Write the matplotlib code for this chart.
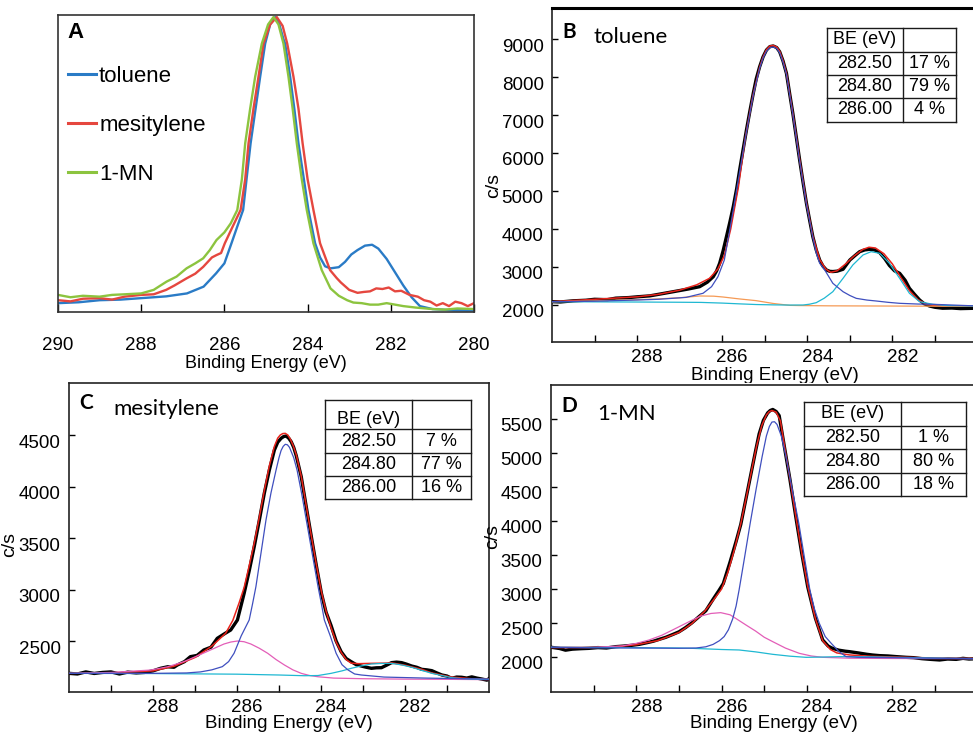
import matplotlib
matplotlib.use("Agg")
import matplotlib.pyplot as plt
from matplotlib.lines import Line2D
from matplotlib.patches import Rectangle
from matplotlib.transforms import ScaledTranslation

W, H = 973, 734
plt.rcParams['font.family'] = ['Liberation Sans', 'DejaVu Sans']

# ---------------- Panel A (normalised C 1s spectra) ----------------
a_tol_be = [290.0, 289.5, 289.0, 288.5, 288.0, 287.4, 286.9, 286.5, 286.2, 286.0, 285.83, 285.69,
            285.55, 285.46, 285.37, 285.25, 285.14, 285.02, 284.9, 284.78, 284.68, 284.58, 284.54,
            284.42, 284.32, 284.22, 284.1, 283.98, 283.82, 283.7, 283.58, 283.45, 283.35, 283.25,
            283.1, 282.95, 282.8, 282.62, 282.45, 282.3, 282.1, 281.9, 281.7, 281.5, 281.3, 281.0,
            280.5, 280.0]
a_tol_y = [0.030, 0.033, 0.040, 0.042, 0.047, 0.053, 0.063, 0.086, 0.131, 0.165, 0.233, 0.29,
           0.346, 0.46, 0.572, 0.69, 0.798, 0.91, 0.975, 1.0, 0.975, 0.925, 0.91,
           0.798, 0.69, 0.572, 0.46, 0.346, 0.233, 0.185, 0.155, 0.148, 0.15, 0.152,
           0.17, 0.195, 0.21, 0.225, 0.228, 0.215, 0.18, 0.135, 0.09, 0.05, 0.02, 0.01,
           0.006, 0.005]

a_mes_be = [290.0, 289.7, 289.4, 289.0, 288.7, 288.4, 288.0, 287.7, 287.4, 287.2, 286.91, 286.7,
            286.51, 286.3, 286.19, 286.08, 285.99, 285.8, 285.61, 285.5, 285.42, 285.3, 285.18,
            285.06, 284.9, 284.74, 284.6, 284.49, 284.34, 284.22, 284.12, 284.0, 283.86, 283.7,
            283.46, 283.3, 283.2, 283.0, 282.8, 282.65, 282.5, 282.35, 282.2, 282.05, 281.9,
            281.75, 281.55, 281.35, 281.2, 281.05, 280.9, 280.75, 280.6, 280.45, 280.3, 280.15, 280.0]
a_mes_y = [0.040, 0.036, 0.045, 0.047, 0.042, 0.052, 0.058, 0.060, 0.075, 0.09, 0.114, 0.13,
           0.153, 0.185, 0.193, 0.20, 0.233, 0.29, 0.346, 0.45, 0.572, 0.69, 0.798,
           0.91, 0.975, 1.0, 0.97, 0.91, 0.798, 0.69, 0.572, 0.45, 0.346, 0.233,
           0.142, 0.115, 0.10, 0.075, 0.065, 0.068, 0.07, 0.08, 0.078, 0.083, 0.07,
           0.072, 0.058, 0.052, 0.04, 0.035, 0.022, 0.03, 0.02, 0.035, 0.03, 0.02, 0.03]

a_mn_be = [290.0, 289.7, 289.4, 289.0, 288.7, 288.4, 288.0, 287.7, 287.39, 287.15, 286.91, 286.7,
           286.51, 286.35, 286.19, 286.0, 285.85, 285.69, 285.58, 285.5, 285.38, 285.26, 285.1,
           284.95, 284.82, 284.7, 284.58, 284.46, 284.36, 284.26, 284.14, 284.02, 283.86, 283.66,
           283.45, 283.25, 283.05, 282.9, 282.7, 282.5, 282.3, 282.1, 281.9, 281.7, 281.4, 281.0,
           280.7, 280.4, 280.0]
a_mn_y = [0.058, 0.050, 0.055, 0.052, 0.058, 0.060, 0.063, 0.075, 0.103, 0.12, 0.148, 0.165,
          0.182, 0.21, 0.244, 0.27, 0.30, 0.346, 0.45, 0.572, 0.69, 0.798, 0.91,
          0.975, 1.0, 0.975, 0.91, 0.798, 0.69, 0.572, 0.45, 0.346, 0.233, 0.142,
          0.08, 0.055, 0.04, 0.032, 0.03, 0.025, 0.025, 0.03, 0.025, 0.02, 0.015, 0.01,
          0.008, 0.012, 0.01]

legend_labels = ['toluene', 'mesitylene', '1-MN']

# ---------------- Panel B (toluene) ----------------
b_data_be = [290.0, 289.8, 289.5, 289.2, 289.0, 288.7, 288.5, 288.2, 288.0, 287.7, 287.5, 287.15,
             286.8, 286.53, 286.35, 286.21, 286.13, 286.06, 285.98, 285.9, 285.82, 285.74, 285.66,
             285.59, 285.51, 285.43, 285.35, 285.27, 285.2, 285.12, 285.04, 284.96, 284.88, 284.8,
             284.72, 284.65, 284.57, 284.49, 284.42, 284.34, 284.26, 284.18, 284.1, 284.02, 283.94,
             283.87, 283.79, 283.71, 283.63, 283.55, 283.47, 283.4, 283.3, 283.16, 283.0, 282.88,
             282.77, 282.65, 282.54, 282.42, 282.3, 282.18, 282.07, 281.95, 281.83, 281.7, 281.6,
             281.48, 281.36, 281.25, 281.13, 281.0, 280.82, 280.6, 280.4, 280.1, 280.0]
b_data_cps = [2087, 2080, 2110, 2125, 2150, 2140, 2180, 2195, 2215, 2240, 2280, 2350,
              2420, 2482, 2600, 2745, 2900, 3097, 3420, 3797, 4180, 4587, 5060,
              5553, 6080, 6605, 7100, 7571, 7950, 8271, 8530, 8710, 8800, 8816,
              8775, 8666, 8420, 8097, 7600, 7044, 6430, 5816, 5230, 4676, 4200,
              3797, 3450, 3184, 3020, 2921, 2885, 2880, 2890, 2940, 3184, 3300,
              3403, 3450, 3465, 3450, 3380, 3220, 3040, 2900, 2834, 2650, 2439,
              2280, 2131, 2030, 1974, 1940, 1915, 1920, 1905, 1913, 1910]
b_fit_be = [290.0, 289.0, 288.0, 287.5, 287.0, 286.6, 286.3, 286.1, 285.95, 285.8, 285.62, 285.45,
            285.28, 285.12, 285.04, 284.96, 284.88, 284.8, 284.72, 284.65, 284.57, 284.49, 284.34,
            284.18, 284.02, 283.87, 283.71, 283.57, 283.45, 283.3, 283.1, 282.9, 282.7, 282.55,
            282.4, 282.2, 282.0, 281.8, 281.6, 281.4, 281.2, 281.0, 280.6, 280.0]
b_fit_cps = [2087, 2150, 2215, 2280, 2390, 2530, 2700, 2950, 3300, 4000, 5100, 6450,
             7500, 8260, 8530, 8720, 8815, 8830, 8790, 8680, 8430, 8100, 7050,
             5830, 4690, 3810, 3200, 2950, 2860, 2900, 3080, 3290, 3460, 3520,
             3500, 3350, 3080, 2720, 2380, 2140, 2020, 1985, 1975, 1972]
b_c1_be = [290.0, 289.0, 288.0, 287.5, 286.85, 286.45, 286.25, 286.1, 285.95, 285.85, 285.74,
           285.59, 285.43, 285.27, 285.12, 285.04, 284.96, 284.88, 284.8, 284.72, 284.65, 284.57,
           284.49, 284.34, 284.18, 284.02, 283.87, 283.79, 283.71, 283.59, 283.4, 283.16, 283.0,
           282.85, 282.6, 282.38, 282.1, 281.83, 281.4, 281.05, 280.5, 280.0]
b_c1_cps = [2087, 2100, 2131, 2150, 2200, 2308, 2482, 2745, 3184, 3800, 4500,
            5500, 6560, 7530, 8230, 8500, 8680, 8770, 8790, 8750, 8640, 8390,
            8070, 7020, 5790, 4650, 3780, 3368, 3100, 2921, 2571, 2350, 2250,
            2175, 2130, 2105, 2070, 2044, 2025, 2018, 1995, 1974]
b_c2_be = [290.0, 289.0, 288.0, 287.0, 286.5, 286.0, 285.6, 285.2, 284.8, 284.4, 284.1, 283.95,
           283.79, 283.6, 283.4, 283.16, 282.93, 282.69, 282.5, 282.3, 282.07, 281.83, 281.6,
           281.36, 281.05, 280.7, 280.0]
b_c2_cps = [2087, 2082, 2078, 2072, 2068, 2050, 2030, 2012, 2003, 1998, 2000, 2020,
            2061, 2180, 2350, 2702, 3053, 3316, 3403, 3360, 3097, 2702, 2308,
            2087, 2018, 1985, 1974]
b_c3_be = [290.0, 289.5, 289.0, 288.72, 288.0, 287.54, 287.0, 286.53, 286.2, 285.98, 285.6,
           285.2, 284.8, 284.41, 284.18, 283.5, 282.0, 281.0, 280.0]
b_c3_cps = [2087, 2095, 2110, 2120, 2140, 2158, 2190, 2237, 2232, 2210, 2160,
            2114, 2040, 1990, 1985, 1978, 1972, 1968, 1965]

# ---------------- Panel C (mesitylene) ----------------
c_data_be = [290.0, 289.8, 289.6, 289.4, 289.2, 289.0, 288.8, 288.6, 288.4, 288.2, 288.0, 287.82,
             287.65, 287.5, 287.42, 287.25, 287.11, 286.95, 286.79, 286.62, 286.47, 286.3, 286.15,
             285.99, 285.83, 285.71, 285.59, 285.47, 285.35, 285.23, 285.11, 285.03, 284.95, 284.89,
             284.83, 284.77, 284.71, 284.65, 284.59, 284.47, 284.35, 284.23, 284.11, 283.99, 283.88,
             283.76, 283.64, 283.52, 283.4, 283.28, 283.16, 283.04, 282.92, 282.8, 282.68, 282.56,
             282.44, 282.32, 282.2, 282.08, 281.96, 281.84, 281.72, 281.6, 281.48, 281.36, 281.24,
             281.12, 281.0, 280.89, 280.77, 280.65, 280.53, 280.41, 280.29, 280.17, 280.05, 280.0]
c_data_cps = [2186, 2180, 2200, 2185, 2195, 2200, 2180, 2198, 2190, 2195, 2210, 2235,
              2250, 2245, 2267, 2300, 2348, 2360, 2413, 2440, 2526, 2570, 2607,
              2704, 2963, 3180, 3416, 3670, 3934, 4160, 4354, 4430, 4468, 4485,
              4490, 4470, 4435, 4380, 4300, 4095, 3800, 3513, 3230, 2963, 2780,
              2650, 2500, 2396, 2330, 2299, 2270, 2257, 2245, 2235, 2240, 2241,
              2265, 2290, 2295, 2290, 2275, 2257, 2245, 2225, 2220, 2212, 2190,
              2170, 2160, 2138, 2150, 2148, 2140, 2152, 2140, 2131, 2120, 2135]
c_fit_be = [290.0, 289.0, 288.0, 287.5, 287.0, 286.6, 286.27, 286.1, 285.95, 285.83, 285.71, 285.59,
            285.47, 285.35, 285.23, 285.11, 285.03, 284.97, 284.91, 284.85, 284.79, 284.73, 284.66,
            284.59, 284.47, 284.35, 284.23, 284.11, 283.99, 283.88, 283.76, 283.64, 283.52, 283.4,
            283.28, 283.1, 282.8, 282.5, 282.32, 282.0, 281.6, 281.36, 280.9, 280.4, 280.0]
c_fit_cps = [2186, 2190, 2210, 2255, 2340, 2450, 2575, 2700, 2870, 3020, 3230, 3450,
             3700, 3960, 4200, 4390, 4470, 4500, 4514, 4516, 4500, 4460, 4395,
             4310, 4100, 3810, 3520, 3240, 2980, 2790, 2630, 2490, 2390, 2320,
             2285, 2280, 2283, 2285, 2288, 2265, 2225, 2190, 2150, 2133, 2130]
c_c1_be = [290.0, 288.0, 287.2, 286.87, 286.6, 286.35, 286.2, 286.07, 285.9, 285.71, 285.63, 285.55,
           285.43, 285.31, 285.19, 285.07, 285.0, 284.95, 284.9, 284.85, 284.8, 284.75, 284.65,
           284.57, 284.46, 284.35, 284.21, 284.07, 283.99, 283.92, 283.78, 283.64, 283.5, 283.36,
           283.2, 283.04, 282.5, 281.5, 280.0]
c_c1_cps = [2186, 2186, 2190, 2200, 2220, 2251, 2300, 2381, 2550, 2704, 2860, 3027,
            3350, 3675, 3940, 4160, 4280, 4350, 4390, 4410, 4405, 4380, 4280,
            4160, 3930, 3675, 3350, 3027, 2860, 2704, 2550, 2381, 2270, 2220,
            2180, 2170, 2150, 2140, 2130]
c_c2_be = [290.0, 288.0, 286.0, 285.0, 284.4, 284.07, 283.76, 283.5, 283.28, 283.04, 282.8, 282.56,
           282.32, 282.08, 281.84, 281.6, 281.36, 281.12, 280.89, 280.65, 280.41, 280.0]
c_c2_cps = [2186, 2184, 2178, 2170, 2163, 2165, 2186, 2210, 2235, 2258, 2277, 2282,
            2283, 2268, 2245, 2215, 2186, 2165, 2144, 2135, 2131, 2128]
c_c3_be = [290.0, 289.0, 288.06, 287.65, 287.27, 286.95, 286.63, 286.31, 286.15, 285.99, 285.83,
           285.67, 285.47, 285.27, 285.07, 284.87, 284.67, 284.47, 284.27, 284.07, 283.7, 283.0,
           282.0, 281.0, 280.0]
c_c3_cps = [2186, 2195, 2218, 2250, 2299, 2355, 2413, 2471, 2490, 2500, 2493,
            2471, 2430, 2381, 2320, 2267, 2220, 2186, 2165, 2153, 2140, 2134,
            2130, 2128, 2125]

# ---------------- Panel D (1-MN) ----------------
d_data_be = [290.0, 289.8, 289.66, 289.5, 289.3, 289.11, 288.9, 288.7, 288.48, 288.3, 288.1, 287.93,
             287.75, 287.6, 287.45, 287.31, 287.15, 287.0, 286.85, 286.7, 286.53, 286.37, 286.21,
             286.06, 285.96, 285.8, 285.66, 285.55, 285.47, 285.38, 285.3, 285.2, 285.12, 285.02,
             284.92, 284.86, 284.8, 284.72, 284.65, 284.53, 284.4, 284.26, 284.12, 283.98, 283.8,
             283.63, 283.5, 283.4, 283.25, 283.1, 283.0, 282.8, 282.6, 282.46, 282.3, 282.1, 281.9,
             281.67, 281.5, 281.3, 281.1, 280.89, 280.7, 280.5, 280.34, 280.2, 280.0]
d_data_cps = [2143, 2125, 2100, 2115, 2122, 2127, 2138, 2132, 2152, 2160, 2172, 2186,
              2210, 2232, 2262, 2289, 2330, 2370, 2430, 2500, 2593, 2680, 2838,
              2980, 3080, 3400, 3700, 3950, 4200, 4480, 4730, 5040, 5280, 5480,
              5590, 5625, 5640, 5610, 5550, 5100, 4620, 4060, 3520, 3030, 2570,
              2250, 2160, 2127, 2100, 2085, 2078, 2060, 2040, 2029, 2020, 2015, 2005,
              1995, 1990, 1975, 1965, 1956, 1970, 1965, 1980, 1970, 1975]
d_fit_be = [290.0, 289.0, 288.5, 288.0, 287.5, 287.0, 286.7, 286.4, 286.2, 286.0, 285.85, 285.7,
            285.55, 285.42, 285.3, 285.18, 285.06, 284.95, 284.88, 284.82, 284.72, 284.62, 284.53,
            284.4, 284.26, 284.12, 283.98, 283.8, 283.63, 283.45, 283.3, 283.0, 282.5, 282.0,
            281.0, 280.0]
d_fit_cps = [2140, 2140, 2150, 2180, 2240, 2360, 2490, 2670, 2830, 3000, 3250, 3580,
             3960, 4350, 4730, 5100, 5400, 5560, 5610, 5625, 5600, 5470, 5120,
             4630, 4070, 3530, 3040, 2560, 2240, 2110, 2060, 2030, 2010, 2000,
             1985, 1978]
d_c1_be = [290.0, 289.0, 288.0, 287.5, 287.0, 286.6, 286.37, 286.2, 286.05, 285.94, 285.84, 285.74,
           285.66, 285.59, 285.46, 285.33, 285.19, 285.05, 284.95, 284.88, 284.82, 284.76, 284.7,
           284.6, 284.49, 284.34, 284.19, 284.06, 283.93, 283.82, 283.71, 283.57, 283.43, 283.25,
           283.08, 282.8, 282.0, 281.0, 280.0]
d_c1_cps = [2143, 2135, 2132, 2130, 2128, 2132, 2150, 2185, 2240, 2300, 2400, 2560,
            2750, 2985, 3470, 3966, 4470, 4946, 5250, 5390, 5455, 5460, 5420,
            5250, 4946, 4450, 3966, 3470, 2985, 2700, 2496, 2300, 2201, 2080,
            2005, 1995, 1990, 1982, 1975]
d_c2_be = [290.0, 289.0, 288.0, 287.0, 286.68, 286.0, 285.59, 285.2, 284.8, 284.4, 284.02, 283.7,
           283.24, 282.8, 282.46, 282.0, 281.0, 280.0]
d_c2_cps = [2143, 2140, 2137, 2132, 2127, 2110, 2103, 2075, 2039, 2012, 1995, 1998,
            2005, 2005, 2002, 1995, 1985, 1975]
d_c3_be = [290.0, 289.11, 288.33, 288.0, 287.7, 287.4, 287.15, 286.95, 286.76, 286.5, 286.25,
           286.02, 285.8, 285.6, 285.43, 285.2, 285.0, 284.8, 284.5, 284.18, 283.9, 283.63,
           283.0, 282.0, 281.0, 280.0]
d_c3_cps = [2140, 2140, 2162, 2200, 2250, 2320, 2397, 2460, 2520, 2600, 2640,
            2652, 2620, 2540, 2471, 2380, 2290, 2225, 2130, 2054, 2015, 1995,
            1982, 1978, 1976, 1975]

# tables
be_rows = ['282.50', '284.80', '286.00']
b_pct = ['17 %', '79 %', '4 %']
c_pct = ['7 %', '77 %', '16 %']
d_pct = ['1 %', '80 %', '18 %']

# ---------------- figure ----------------
fig = plt.figure(figsize=(W / 100, H / 100), dpi=100)


def rect(l, t, r, b):
    return [l / W, 1 - b / H, (r - l) / W, (b - t) / H]


C_BLUE = '#2a7bc6'
C_RED = '#e5473f'
C_GREEN = '#8cc43f'
K_FIT = '#e8231b'
K_C1 = '#3f4fbf'
K_C2 = '#1fb8d2'
K_C3 = '#f59a55'
K_C3M = '#e35eb8'

# ---- A ----
axA = fig.add_axes(rect(58, 15, 474, 312))
axA.plot(a_tol_be, a_tol_y, color=C_BLUE, lw=1.7, label=legend_labels[0])
axA.plot(a_mes_be, a_mes_y, color=C_RED, lw=1.7, label=legend_labels[1])
axA.plot(a_mn_be, a_mn_y, color=C_GREEN, lw=1.7, label=legend_labels[2])
axA.set_xlim(290, 280)
axA.set_ylim(0, 1.007)
axA.set_yticks([])
axA.set_xticks([290, 288, 286, 284, 282, 280])
axA.tick_params(axis='x', direction='in', length=6, width=1, pad=18, labelsize=13.5)
axA.set_xlabel('Binding Energy (eV)', fontsize=13, labelpad=1)
for s in axA.spines.values():
    s.set_color('#333333')
    s.set_linewidth(1.2)
axA.text(76 / W, 1 - 33 / H, 'A', transform=fig.transFigure, fontsize=16, fontweight='bold',
         ha='center', va='center')
leg = axA.legend(loc='upper left', bbox_to_anchor=(68 / W, 1 - 66 / H),
                 bbox_transform=fig.transFigure, frameon=False, fontsize=16,
                 handlelength=1.25, handletextpad=0.15, labelspacing=1.25, borderpad=0,
                 borderaxespad=0)
for ln in leg.get_lines():
    ln.set_linewidth(2.2)


def style_fit_axes(ax, yt, ylim):
    ax.set_xlim(290, 280)
    ax.set_ylim(*ylim)
    ax.set_yticks(yt)
    ax.set_yticklabels([str(v) for v in yt])
    xt = [289, 288, 287, 286, 285, 284, 283, 282, 281]
    ax.set_xticks(xt)
    ax.set_xticklabels([str(v) if v % 2 == 0 else '' for v in xt])
    ax.tick_params(axis='both', direction='in', length=5, width=1, labelsize=13.5)
    ax.tick_params(axis='y', pad=6, length=4)
    ax.tick_params(axis='x', pad=5)
    dx = ScaledTranslation(10 / 100, 0, fig.dpi_scale_trans)
    dy = ScaledTranslation(0, -6 / 100, fig.dpi_scale_trans)
    for t in ax.xaxis.get_major_ticks():
        t.label1.set_transform(t.label1.get_transform() + dx)
    for t in ax.yaxis.get_major_ticks():
        t.label1.set_transform(t.label1.get_transform() + dy)
    for s in ax.spines.values():
        s.set_color('#222222')
        s.set_linewidth(1.2)


def draw_fit(ax, data, fit, comps):
    ax.plot(*data, color='black', lw=2.4, zorder=3, solid_joinstyle='round')
    ax.plot(*fit, color=K_FIT, lw=1.1, zorder=4)
    for (xs, ys, col) in comps:
        ax.plot(xs, ys, color=col, lw=0.9, zorder=5)


# ---- B ----
axB = fig.add_axes(rect(552, 8, 977.5, 342), zorder=0)
draw_fit(axB, (b_data_be, b_data_cps), (b_fit_be, b_fit_cps),
         [(b_c3_be, b_c3_cps, K_C3), (b_c2_be, b_c2_cps, K_C2), (b_c1_be, b_c1_cps, K_C1)])
style_fit_axes(axB, [2000, 3000, 4000, 5000, 6000, 7000, 8000, 9000], (1026, 9816))
axB.spines['top'].set_linewidth(2.2)
axB.spines['top'].set_color('black')
axB.set_xlabel('Binding Energy (eV)', fontsize=13.5, labelpad=1)
axB.xaxis.set_label_coords(0.5 + 10 / 425.5, -0.076)
axB.set_ylabel('c/s', fontsize=14)
axB.yaxis.set_label_coords(-0.118, 0.47)

# ---- C ----
axC = fig.add_axes(rect(69, 383, 489, 692), zorder=2)
draw_fit(axC, (c_data_be, c_data_cps), (c_fit_be, c_fit_cps),
         [(c_c3_be, c_c3_cps, K_C3M), (c_c2_be, c_c2_cps, K_C2), (c_c1_be, c_c1_cps, K_C1)])
style_fit_axes(axC, [2500, 3000, 3500, 4000, 4500], (2005, 5005))
axC.set_xlabel('Binding Energy (eV)', fontsize=13.5, labelpad=0)
axC.xaxis.set_label_coords(0.5 + 10 / 420, -0.075)
axC.set_ylabel('c/s', fontsize=14)
axC.yaxis.set_label_coords(-0.122, 0.476)

# ---- D ----
axD = fig.add_axes(rect(551, 385, 977.5, 692), zorder=2)
draw_fit(axD, (d_data_be, d_data_cps), (d_fit_be, d_fit_cps),
         [(d_c3_be, d_c3_cps, K_C3M), (d_c2_be, d_c2_cps, K_C2), (d_c1_be, d_c1_cps, K_C1)])
style_fit_axes(axD, [2000, 2500, 3000, 3500, 4000, 4500, 5000, 5500], (1485, 6000))
axD.set_xlabel('Binding Energy (eV)', fontsize=13.5, labelpad=0)
axD.xaxis.set_label_coords(0.5 + 10 / 426.5, -0.075)
axD.set_ylabel('c/s', fontsize=14)
axD.yaxis.set_label_coords(-0.117, 0.505)

# white cover for lower panels (hides bottom of B's axis title like the original)
fig.add_artist(Rectangle((0, 0), 1, 1 - 383 / H, transform=fig.transFigure,
                         facecolor='white', edgecolor='none', zorder=1))
fig.add_artist(Line2D([488 / W, 488 / W], [1 - 383 / H, 1 - 692 / H], transform=fig.transFigure,
                      color='#dcdcdc', lw=1.0, zorder=1.5))

# panel letters / names
for (x, y, s) in [(569, 32, 'B'), (86, 403, 'C'), (569, 406, 'D')]:
    fig.text(x / W, 1 - y / H, s, fontsize=15, fontweight='bold', family=['Lato', 'DejaVu Sans'],
             ha='center', va='center', zorder=6)
for (x, y, s) in [(593, 37, 'toluene'), (113, 409, 'mesitylene'), (597, 414, '1-MN')]:
    fig.text(x / W, 1 - y / H, s, fontsize=16, family=['Lato', 'DejaVu Sans'],
             ha='left', va='center', zorder=6)


def draw_table(cols, rows, pcts, header_y=None):
    kw = dict(transform=fig.transFigure, color='#1a1a1a', lw=1.0, zorder=6)
    for x in cols:
        fig.add_artist(Line2D([x / W, x / W], [1 - rows[0] / H, 1 - rows[-1] / H], **kw))
    for y in rows:
        fig.add_artist(Line2D([cols[0] / W, cols[-1] / W], [1 - y / H, 1 - y / H], **kw))
    cx0 = (cols[0] + cols[1]) / 2
    cx1 = (cols[1] + cols[2]) / 2
    hy = header_y if header_y is not None else (rows[0] + rows[1]) / 2
    fig.text(cx0 / W, 1 - hy / H, 'BE (eV)', fontsize=13, ha='center', va='center', zorder=7)
    for i in range(3):
        yy = (rows[i + 1] + rows[i + 2]) / 2
        fig.text(cx0 / W, 1 - yy / H, be_rows[i], fontsize=13, ha='center', va='center', zorder=7)
        fig.text(cx1 / W, 1 - yy / H, pcts[i], fontsize=13, ha='center', va='center', zorder=7)


draw_table([827, 903, 956], [28, 52, 75, 98, 122], b_pct)
draw_table([325, 412, 471], [400, 429, 453, 476, 499], c_pct, header_y=419)
draw_table([804, 901, 966], [402, 426, 449, 473, 496], d_pct)

fig.savefig('out.png', dpi=100)
